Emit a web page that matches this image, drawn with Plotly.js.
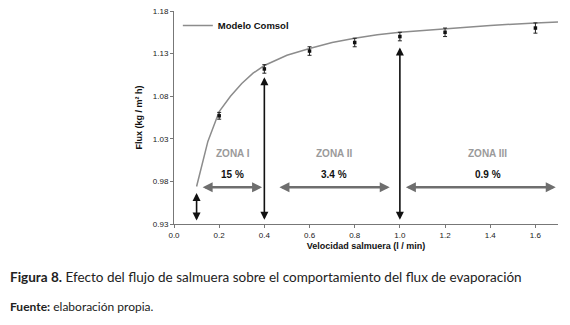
<!DOCTYPE html>
<html>
<head>
<meta charset="utf-8">
<script src="https://cdn.plot.ly/plotly-3.0.1.min.js"></script>
<style>
  body { margin: 0; background: #fff; }
  #PLOT { width: 570px; height: 325px; }
</style>
</head>
<body>
<div id="PLOT"></div>
<script>
// experimental points (with error bars)
const expX = [0.2, 0.4, 0.6, 0.8, 1.0, 1.2, 1.6];
const expY = [1.057, 1.112, 1.133, 1.143, 1.150, 1.155, 1.160];
const expErr = [0.004, 0.005, 0.005, 0.005, 0.005, 0.005, 0.006];

// Modelo Comsol curve
const modelX = [0.1, 0.12, 0.15, 0.2, 0.25, 0.3, 0.35, 0.4, 0.5, 0.6, 0.7, 0.8, 0.9, 1.0, 1.2, 1.4, 1.6, 1.7];
const modelY = [0.974, 0.995, 1.027, 1.062, 1.080, 1.095, 1.107, 1.116, 1.128, 1.136, 1.143, 1.148, 1.152, 1.155, 1.159, 1.163, 1.166, 1.167];

const yTicks = [0.93, 0.98, 1.03, 1.08, 1.13, 1.18];

// zones
const zoneNames = ['ZONA I', 'ZONA II', 'ZONA III'];
const zoneLabelX = [0.26, 0.71, 1.39];
const zonePct = ['15 %', '3.4 %', '0.9 %'];
const zoneStart = [0.12, 0.46, 1.02];
const zoneEnd = [0.39, 0.955, 1.69];
const zoneArrowY = 0.973;

// vertical boundary arrows
const bX = [0.1, 0.4, 1.0];
const bTop = [0.968, 1.104, 1.139];
const bBottom = [0.934, 0.935, 0.935];

const chartFont = 'Liberation Sans Narrow, Arial Narrow, Liberation Sans, Arial, sans-serif';

const traces = [
  {
    x: modelX, y: modelY, type: 'scatter', mode: 'lines', name: 'Modelo Comsol',
    line: { color: '#8c8c8c', width: 1.5 }
  },
  {
    x: expX, y: expY, type: 'scatter', mode: 'markers', showlegend: false,
    marker: { color: '#111', size: 3.5, symbol: 'square' },
    error_y: { type: 'data', array: expErr, visible: true, color: '#222', thickness: 1, width: 2 }
  }
];

const annotations = [];
zoneNames.forEach((name, i) => {
  annotations.push({
    x: zoneLabelX[i], y: 1.013, xref: 'x', yref: 'y', text: '<b>' + name + '</b>',
    showarrow: false, font: { family: chartFont, size: 10, color: '#9a9a9a' }
  });
  annotations.push({
    x: zoneLabelX[i], y: 0.988, xref: 'x', yref: 'y', text: '<b>' + zonePct[i] + '</b>',
    showarrow: false, font: { family: chartFont, size: 10, color: '#111' }
  });
  annotations.push({
    x: zoneEnd[i], y: zoneArrowY, ax: zoneStart[i], ay: zoneArrowY,
    xref: 'x', yref: 'y', axref: 'x', ayref: 'y', text: '',
    showarrow: true, arrowside: 'end+start', arrowhead: 2, arrowsize: 0.8,
    arrowwidth: 2.5, arrowcolor: '#6e6e6e', standoff: 0, startstandoff: 0
  });
});
bX.forEach((x, i) => {
  annotations.push({
    x: x, y: bBottom[i], ax: x, ay: bTop[i],
    xref: 'x', yref: 'y', axref: 'x', ayref: 'y', text: '',
    showarrow: true, arrowside: 'end+start', arrowhead: 2, arrowsize: 1,
    arrowwidth: 1.6, arrowcolor: '#111', standoff: 0, startstandoff: 0
  });
});

// caption below the chart
annotations.push({
  x: -0.431, y: -0.25, xref: 'paper', yref: 'paper', xanchor: 'left', yanchor: 'middle',
  text: '<b>Figura 8.</b> Efecto del flujo de salmuera sobre el comportamiento del flux de evaporación',
  showarrow: false, font: { family: 'Lato, Open Sans, sans-serif', size: 13.5, color: '#222' }
});
annotations.push({
  x: -0.431, y: -0.385, xref: 'paper', yref: 'paper', xanchor: 'left', yanchor: 'middle',
  text: '<b>Fuente:</b> elaboración propia.',
  showarrow: false, font: { family: 'Lato, Open Sans, sans-serif', size: 12, color: '#222' }
});

const layout = {
  width: 570, height: 325,
  margin: { l: 173.5, r: 12.3, t: 10.5, b: 101 },
  paper_bgcolor: '#fff', plot_bgcolor: '#fff',
  font: { family: chartFont, size: 8, color: '#222' },
  showlegend: true,
  legend: {
    x: 0.01, y: 1.0, xanchor: 'left', yanchor: 'top', bgcolor: 'rgba(0,0,0,0)',
    font: { family: chartFont, size: 9.5, color: '#111', weight: 'bold' },
    itemwidth: 30
  },
  xaxis: {
    range: [0, 1.7], tickvals: [0, 0.2, 0.4, 0.6, 0.8, 1.0, 1.2, 1.4, 1.6], tickformat: '.1f',
    showgrid: false, zeroline: false, showline: true, linecolor: '#777', linewidth: 1,
    ticks: 'outside', ticklen: 3, tickcolor: '#777',
    tickfont: { family: chartFont, size: 8, color: '#222' },
    title: { text: '<b>Velocidad salmuera (l / min)</b>', standoff: 4, font: { family: chartFont, size: 9, color: '#111' } }
  },
  yaxis: {
    range: [0.93, 1.18], tickvals: yTicks, tickformat: '.2f',
    showgrid: false, zeroline: false, showline: true, linecolor: '#777', linewidth: 1,
    ticks: 'outside', ticklen: 3, tickcolor: '#777',
    tickfont: { family: chartFont, size: 8, color: '#222' },
    title: { text: '<b>Flux (kg / m² h)</b>', standoff: 8, font: { family: chartFont, size: 9, color: '#111' } }
  },
  annotations: annotations
};

Plotly.newPlot(document.getElementById('PLOT'), traces, layout, { displayModeBar: false, staticPlot: true });
</script>
</body>
</html>
